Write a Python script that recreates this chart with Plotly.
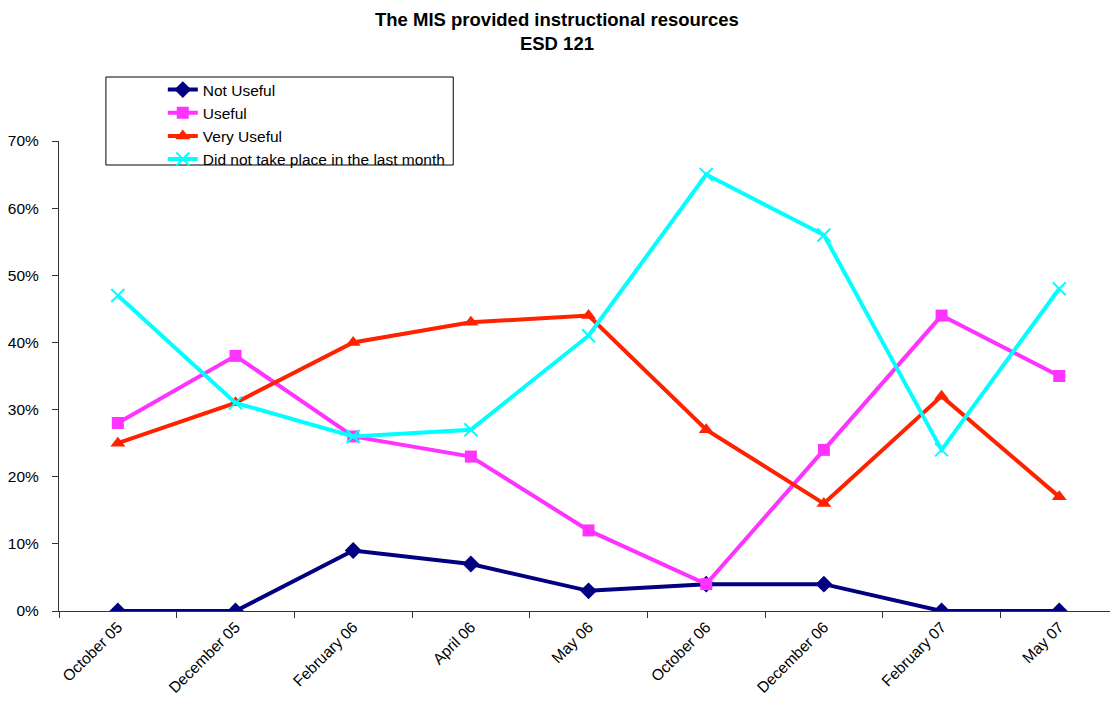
import plotly.graph_objects as go

categories = ["October 05", "December 05", "February 06", "April 06", "May 06",
              "October 06", "December 06", "February 07", "May 07"]
not_useful = [0, 0, 9, 7, 3, 4, 4, 0, 0]
useful = [28, 38, 26, 23, 12, 4, 24, 44, 35]
very_useful = [25, 31, 40, 43, 44, 27, 16, 32, 17]
did_not = [47, 31, 26, 27, 41, 65, 56, 24, 48]
y_ticks = [0, 10, 20, 30, 40, 50, 60, 70]
y_tick_labels = ["0%", "10%", "20%", "30%", "40%", "50%", "60%", "70%"]
title_text = "<b>The MIS provided instructional resources<br>ESD 121</b>"

series = [
    ("Not Useful", not_useful, "#000080", "diamond", 13, None),
    ("Useful", useful, "#FF33FF", "square", 12, None),
    ("Very Useful", very_useful, "#FF2200", "triangle-up", 13, None),
    ("Did not take place in the last month", did_not, "#00FFFF", "x-thin", 13, 2),
]

fig = go.Figure()
for i, (name, vals, color, sym, size, lw) in enumerate(series):
    marker = dict(symbol=sym, size=size, color=color)
    if lw:
        marker["line"] = dict(color=color, width=lw)
    fig.add_trace(go.Scatter(
        x=categories, y=vals, name=name, mode="lines+markers",
        line=dict(color=color, width=4), marker=marker,
    ))

FONT = "Liberation Sans, Arial, sans-serif"

# page has an 8px body margin; work in figure coordinates
W, H = 1102, 699
L, T, B, R = 49, 133, 96, 0
PW = W - L - R
PH = H - T - B


def px(page_x):
    return (page_x - 8 - L) / PW


def py(page_y):
    return (T + PH - (page_y - 8)) / PH


fig.update_layout(
    width=W, height=H,
    margin=dict(l=L, r=R, t=T, b=B, pad=0),
    paper_bgcolor="white", plot_bgcolor="white",
    font=dict(family=FONT, color="black", size=15),
    showlegend=True,
    legend=dict(x=px(161), xanchor="left", y=py(73), yanchor="top",
                bgcolor="rgba(0,0,0,0)", borderwidth=0,
                font=dict(size=15.5, family=FONT), tracegroupgap=0,
                itemwidth=30),
    xaxis=dict(type="category", showline=True, linecolor="#333333", linewidth=1,
               ticks="outside", tickson="boundaries", ticklen=6, tickcolor="#333333",
               tickangle=-45, tickfont=dict(size=15.5, family=FONT),
               showgrid=False, zeroline=False, range=[-0.5, -0.5 + PW / 117.9]),
    yaxis=dict(range=[0, 70], tickvals=y_ticks, ticktext=y_tick_labels,
               showline=True, linecolor="#333333", linewidth=1,
               ticks="outside", ticklen=6, tickcolor="#333333",
               tickfont=dict(size=15.5, family=FONT), ticklabelstandoff=10,
               showgrid=False, zeroline=False),
    shapes=[dict(type="rect", xref="paper", yref="paper",
                 x0=px(104), x1=px(452), y0=py(165), y1=py(77),
                 line=dict(color="black", width=1), fillcolor="rgba(0,0,0,0)")],
    annotations=[dict(text=title_text, xref="paper", yref="paper",
                      x=px(556), y=py(8), xanchor="center", yanchor="top",
                      showarrow=False, align="center", borderpad=0,
                      font=dict(size=18.5, family=FONT, color="black"))],
)

fig.write_html("out.html")
